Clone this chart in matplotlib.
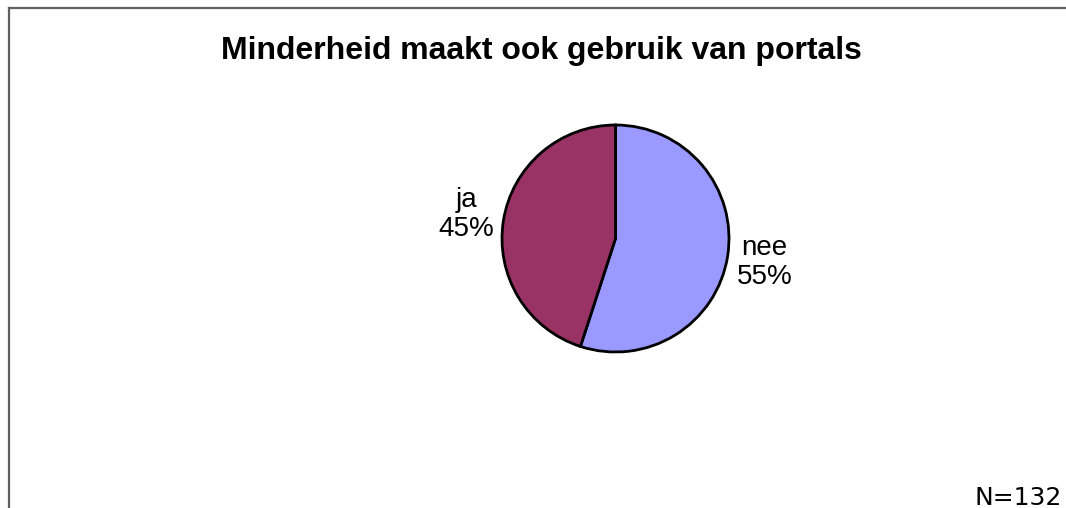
import matplotlib
matplotlib.use("Agg")
import matplotlib.pyplot as plt
from matplotlib.lines import Line2D

title = "Minderheid maakt ook gebruik van portals"
categories = ["nee", "ja"]
percentages = [55, 45]
colors = ["#9999FF", "#993366"]
note = "N=132"

W, H = 1066, 508
fig = plt.figure(figsize=(W / 100, H / 100), dpi=100)
plt.rcParams['font.family'] = ['Liberation Sans', 'DejaVu Sans']

# frame (left + top only, as in the reference crop)
fig.add_artist(Line2D([8.5 / W, 8.5 / W], [0, 1 - 7.5 / H], transform=fig.transFigure,
                      color="#606060", lw=1.6))
fig.add_artist(Line2D([8.5 / W, 1], [1 - 7.5 / H, 1 - 7.5 / H], transform=fig.transFigure,
                      color="#606060", lw=1.6))

# pie axes: centre (615.5, 238.5) px, radius 113.5 px
cx, cy, r = 615.5, 238.5, 113.5
ax = fig.add_axes([(cx - r) / W, (H - cy - r) / H, 2 * r / W, 2 * r / H])
labels = [f"{c}\n{p}%" for c, p in zip(categories, percentages)]
wedges, texts = ax.pie(percentages, labels=labels, colors=colors, startangle=90,
                       counterclock=False, labeldistance=1.33,
                       wedgeprops=dict(edgecolor="black", linewidth=2),
                       textprops=dict(fontsize=20))
for t in texts:
    t.set_ha("center")
    t.set_va("center")
    t.set_linespacing(1.15)
ax.set_xlim(-1, 1)
ax.set_ylim(-1, 1)

fig.text(541 / W, 1 - 51 / H, title, ha="center", va="center",
         fontsize=23, fontweight="bold")
fig.text(1062 / W, 1 - 505 / H, note, ha="right", va="baseline",
         fontsize=18, family="DejaVu Sans")

fig.savefig("out.png", dpi=100)
